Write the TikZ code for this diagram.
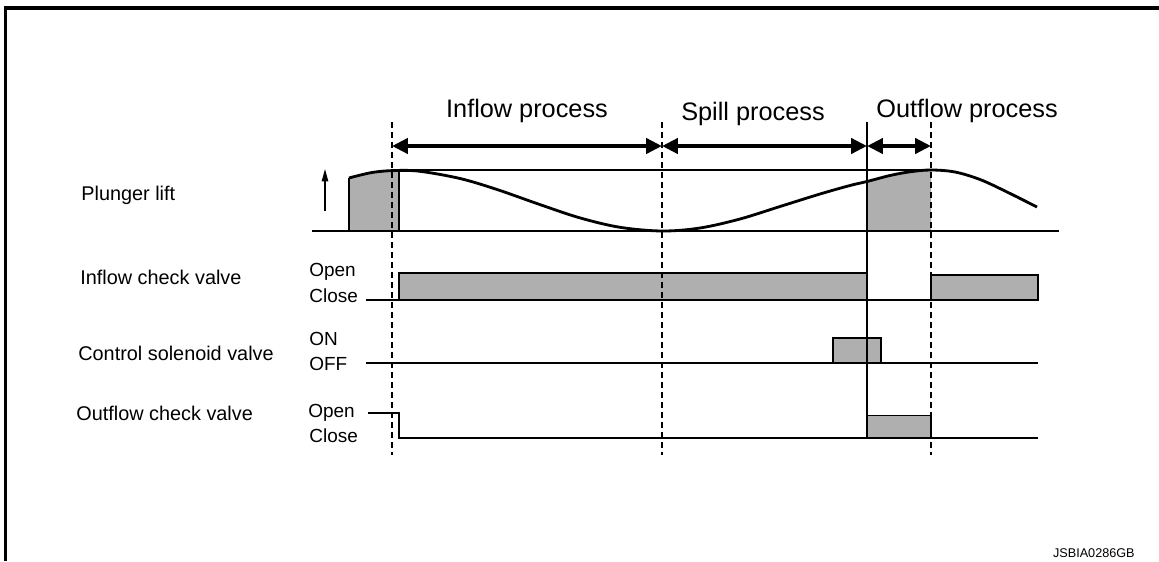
\documentclass[tikz,border=0pt]{standalone}
\usepackage{fontspec}
\setmainfont{Liberation Sans}
\usetikzlibrary{arrows.meta}
\definecolor{dotgray}{RGB}{175,175,175}
\newcommand{\liftcurve}{plot[smooth, tension=0.55] coordinates {(349,178) (372,172.5) (395,170.5) (420,171.3) (460,178.5) (497,189.5) (540,204.6) (580,217.9) (620,227.3) (662,231) (700,228) (740,219) (780,206.5) (820,194) (850,185.5) (867,181.5) (890,175.5) (910,171.8) (931,170) (955,172) (980,179.5) (1005,191) (1037,207)}}

\begin{document}
\begin{tikzpicture}[x=0.02cm, y=-0.02cm,
    lbl/.style={anchor=base west, font=\fontsize{10.8}{12}\selectfont, inner sep=0pt},
    rowname/.style={lbl, font=\fontsize{11.3}{13}\selectfont},
    proc/.style={anchor=base, font=\fontsize{14.4}{17}\selectfont, inner sep=0pt},
    sig/.style={line width=0.8pt},
    dotbox/.style={fill=dotgray, draw=black, line width=0.8pt},
    marker/.style={line width=0.75pt, dash pattern=on 3.4pt off 2.3pt},
    procarrow/.style={line width=2.3pt, {Triangle[length=9pt,width=8.5pt]}-{Triangle[length=9pt,width=8.5pt]}}]
  \useasboundingbox (0,0) rectangle (1159,561);
  % frame
  \draw[line width=2pt] (5.3,561) -- (5.3,8) -- (1159,8);

  % process marks
  \coordinate (tA) at (392,146);
  \coordinate (tB) at (662,146);
  \coordinate (tC) at (867,146);
  \coordinate (tD) at (931,146);
  \node[proc] (inflowproc) at (527,117) {Inflow process};
  \node[proc] (spillproc) at (753,120) {Spill process};
  \node[proc] (outflowproc) at (967,117) {Outflow process};
  \draw[procarrow] (tA) -- (tB);
  \draw[procarrow] (tB) -- (tC);
  \draw[procarrow] (tC) -- (tD);

  % plunger lift
  \begin{scope}
    \clip \liftcurve -- (1037,231) -- (349,231) -- cycle;
    \fill[dotgray] (349,120) rectangle (399,231) (867,120) rectangle (931,231);
  \end{scope}
  \draw[sig] (349,178) -- (349,231) (399,171) -- (399,231);
  \draw[line width=0.7pt] (392,170) -- (931,170);
  \draw[sig] (312,231) -- (1059,231);
  \draw[line width=1.6pt] \liftcurve;
  \coordinate (liftlow) at (325,211);
  \coordinate (lifthigh) at (325,169);
  \draw[line width=0.8pt, -{Triangle[length=7pt,width=3.6pt]}] (liftlow) -- (lifthigh);

  % inflow check valve
  \draw[sig] (366,300) -- (1038,300);
  \filldraw[dotbox] (399,273) rectangle (867,300);
  \filldraw[dotbox] (931,275) rectangle (1038,300);

  % control solenoid valve
  \draw[sig] (366,363) -- (1038,363);
  \filldraw[dotbox] (833,338) rectangle (881,363);

  % outflow check valve
  \draw[sig] (368,413) -- (399,413) -- (399,438) -- (1038,438);
  \filldraw[dotbox] (867,415.5) rectangle (931,438);

  % timing lines
  \foreach \tx in {392,662,931}
    \draw[marker] (\tx,122) -- (\tx,455);
  \draw[line width=0.9pt] (867,122) -- (867,438);

  % labels
  \node[rowname] (plunger) at (81,200) {Plunger lift};
  \node[rowname] (inflowcv) at (80,284) {Inflow check valve};
  \node[rowname] (solenoid) at (78,360) {Control solenoid valve};
  \node[rowname] (outflowcv) at (76,420) {Outflow check valve};
  \node[lbl] (inopen) at (309,276) {Open};
  \node[lbl] (inclose) at (309,302) {Close};
  \node[lbl] (solon) at (309,345) {ON};
  \node[lbl] (soloff) at (309,370) {OFF};
  \node[lbl] (outopen) at (308,417) {Open};
  \node[lbl] (outclose) at (309,442) {Close};
  \node[anchor=base east, font=\fontsize{7.2}{9}\selectfont, inner sep=0pt] (figcode) at (1135,557) {JSBIA0286GB};
\end{tikzpicture}
\end{document}
